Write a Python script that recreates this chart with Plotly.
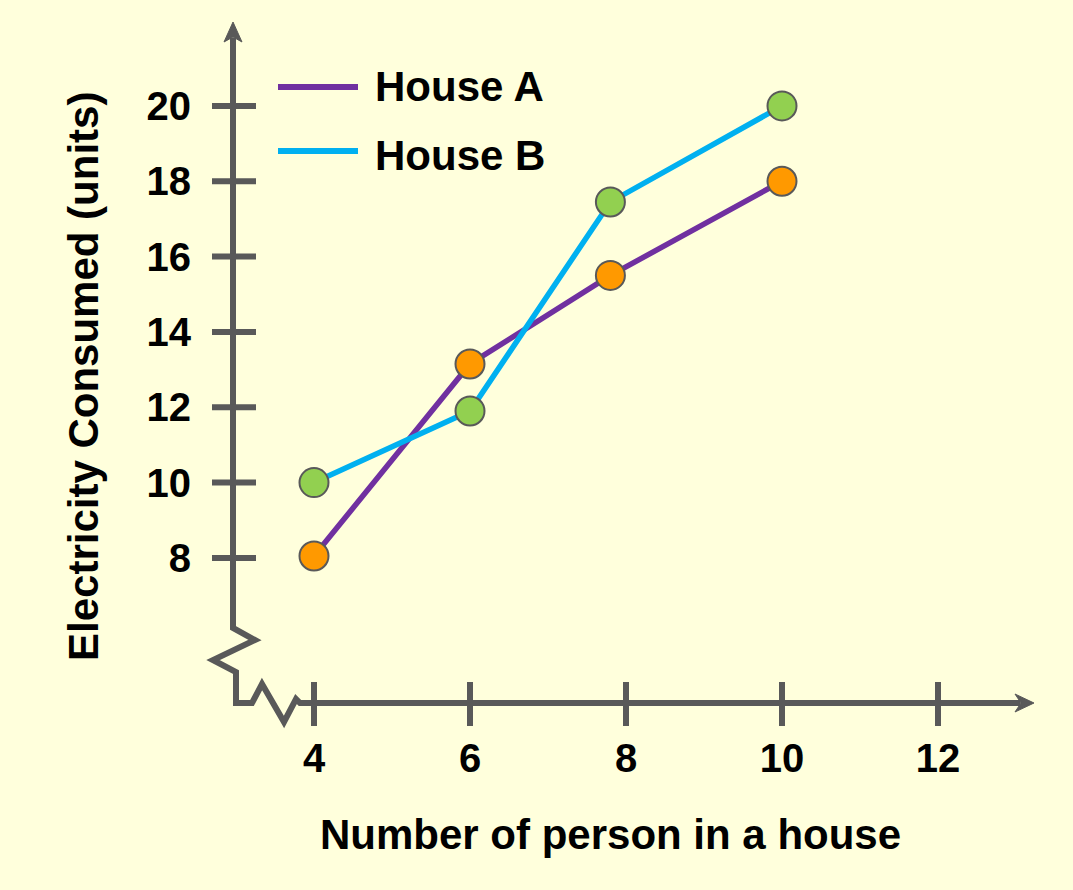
import plotly.graph_objects as go

# ----------------------------
# Data
# ----------------------------
persons = [4, 6, 7.8, 10]
house_a = [8.05, 13.15, 15.5, 18.0]
house_b = [10.0, 11.9, 17.45, 20.0]

x_ticks = [4, 6, 8, 10, 12]
y_ticks = [8, 10, 12, 14, 16, 18, 20]

BG = "#FFFFDC"
AXIS = "#595959"
PURPLE = "#7030A0"
CYAN = "#00B0F0"
ORANGE = "#FF9900"
GREEN = "#92D050"

W, H = 1073, 890
L, R, T, B = 233, 38, 25, 187
PW, PH = W - L - R, H - T - B

X_RANGE = [(233 - 2) / 78, (1035 - 2) / 78]
Y_RANGE = [(859.3 - 703) / 37.67, (859.3 - 25) / 37.67]


def px(xp, yp):
    # page pixels -> paper fractions
    return (xp - L) / PW, (H - B - yp) / PH


def path(points, close=False):
    parts = []
    for n, (a, b) in enumerate(points):
        u, v = px(a, b)
        parts.append(("M" if n == 0 else "L") + f"{u:.5f},{v:.5f}")
    return " ".join(parts) + (" Z" if close else "")


def xval(v):
    return (v - X_RANGE[0]) / (X_RANGE[1] - X_RANGE[0])


def yval(v):
    return (v - Y_RANGE[0]) / (Y_RANGE[1] - Y_RANGE[0])


fig = go.Figure()

# lines first, markers on top
fig.add_trace(go.Scatter(x=persons, y=house_a, mode="lines",
                         line=dict(color=PURPLE, width=5.5),
                         cliponaxis=False, showlegend=False))
fig.add_trace(go.Scatter(x=persons, y=house_b, mode="lines",
                         line=dict(color=CYAN, width=5.5),
                         cliponaxis=False, showlegend=False))
for vals, col in [(house_a, ORANGE), (house_b, GREEN)]:
    fig.add_trace(go.Scatter(x=persons, y=vals, mode="markers",
                             marker=dict(size=29, color=col,
                                         line=dict(color=AXIS, width=2)),
                             cliponaxis=False, showlegend=False))

shapes = []
line_style = dict(color=AXIS, width=6)

# ----------------------------
# Axes with breaks and arrows
# ----------------------------
axis_pts = [(233, 38), (233, 628), (255, 640), (213, 660), (236, 672),
            (236, 703), (252, 703), (262, 684), (284, 722), (296, 699),
            (300, 703), (1020, 703)]
shapes.append(dict(type="path", xref="paper", yref="paper",
                   path=path(axis_pts), line=line_style))
shapes.append(dict(type="path", xref="paper", yref="paper",
                   path=path([(233, 22), (242, 42), (233, 37), (224, 42)], True),
                   fillcolor=AXIS, line=dict(color=AXIS, width=1)))
shapes.append(dict(type="path", xref="paper", yref="paper",
                   path=path([(1034, 703), (1015, 712), (1021, 703), (1015, 694)], True),
                   fillcolor=AXIS, line=dict(color=AXIS, width=1)))

# cross ticks
for v in y_ticks:
    yp = yval(v)
    shapes.append(dict(type="line", xref="paper", yref="paper",
                       x0=px(212, 0)[0], x1=px(256, 0)[0], y0=yp, y1=yp,
                       line=line_style))
for v in x_ticks:
    xp = xval(v)
    shapes.append(dict(type="line", xref="paper", yref="paper",
                       x0=xp, x1=xp, y0=px(0, 682)[1], y1=px(0, 726)[1],
                       line=line_style))

# ----------------------------
# Hand-made legend
# ----------------------------
annotations = []
for name, col, ly, ty in [("House A", PURPLE, 87, 86), ("House B", CYAN, 151, 155)]:
    shapes.append(dict(type="line", xref="paper", yref="paper",
                       x0=px(278, 0)[0], x1=px(358, 0)[0],
                       y0=px(0, ly)[1], y1=px(0, ly)[1],
                       line=dict(color=col, width=6)))
    tx, typ = px(373, ty)
    annotations.append(dict(text=name, xref="paper", yref="paper", x=tx, y=typ,
                            xanchor="left", yanchor="middle", showarrow=False,
                            font=dict(size=42, color="black", weight="bold")))

# axis titles
tx, ty = px(610, 834)
annotations.append(dict(text="Number of person in a house", xref="paper", yref="paper",
                        x=tx, y=ty, xanchor="center", yanchor="middle", showarrow=False,
                        font=dict(size=42, color="black", weight="bold")))
tx, ty = px(83, 377)
annotations.append(dict(text="Electricity Consumed (units)", xref="paper", yref="paper",
                        x=tx, y=ty, xanchor="center", yanchor="middle", showarrow=False,
                        textangle=-90,
                        font=dict(size=42, color="black", weight="bold")))

tick_font = dict(size=40, color="black", weight="bold")
fig.update_layout(
    width=W, height=H,
    margin=dict(l=L, r=R, t=T, b=B),
    paper_bgcolor=BG, plot_bgcolor=BG,
    font=dict(family="Liberation Sans, Arial, sans-serif"),
    xaxis=dict(range=X_RANGE, tickvals=x_ticks, showgrid=False, zeroline=False,
               showline=False, ticks="outside", ticklen=20,
               tickcolor="rgba(0,0,0,0)", tickfont=tick_font),
    yaxis=dict(range=Y_RANGE, tickvals=y_ticks, showgrid=False, zeroline=False,
               showline=False, ticks="outside", ticklen=33,
               tickcolor="rgba(0,0,0,0)", tickfont=tick_font),
    shapes=shapes,
    annotations=annotations,
    showlegend=False,
)

fig.write_html("out.html", config={"displayModeBar": False},
               post_script="document.body.style.margin='0';")
